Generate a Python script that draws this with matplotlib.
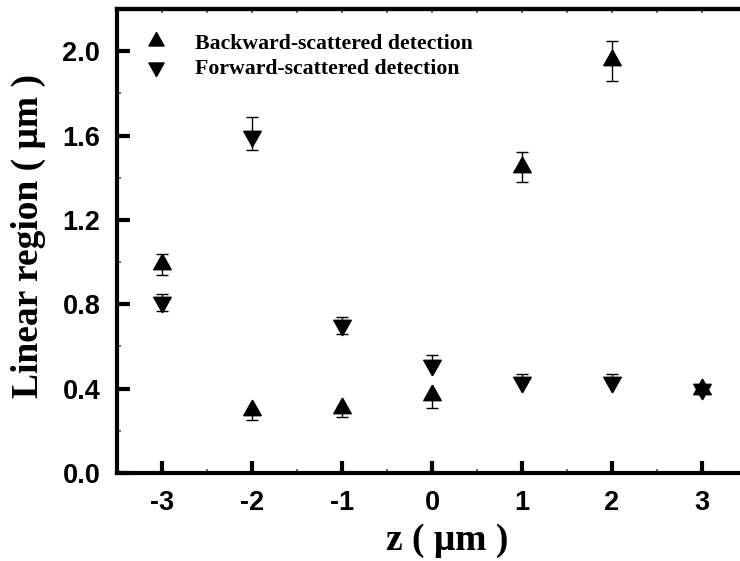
import numpy as np
import matplotlib
matplotlib.use("Agg")
import matplotlib.pyplot as plt
from matplotlib.ticker import MultipleLocator
from matplotlib.lines import Line2D

# data (error bars: lower / upper part)
z = [-3, -2, -1, 0, 1, 2, 3]
backward = [0.99, 0.30, 0.31, 0.37, 1.45, 1.96, 0.40]
backward_lo = [0.05, 0.05, 0.045, 0.06, 0.07, 0.10, 0.01]
backward_hi = [0.05, 0.0, 0.0, 0.0, 0.07, 0.09, 0.01]
forward = [0.81, 1.60, 0.70, 0.51, 0.43, 0.43, 0.40]
forward_lo = [0.04, 0.07, 0.04, 0.0, 0.0, 0.0, 0.01]
forward_hi = [0.04, 0.09, 0.04, 0.05, 0.04, 0.04, 0.01]

serif = "Liberation Serif"
sans = "Liberation Sans"
plt.rcParams["axes.unicode_minus"] = False

# triangles centred on their centroid (Origin style), so up+down give a star
tri_up = [(0, 1), (-0.84, -0.5), (0.84, -0.5), (0, 1)]
tri_down = [(0, -1), (-0.84, 0.5), (0.84, 0.5), (0, -1)]

fig = plt.figure(figsize=(7.4, 5.61), dpi=100)
# right spine sits just outside the picture, like the reference crop
ax = fig.add_axes([117 / 740, 88 / 561, 630 / 740, 464 / 561])

ax.errorbar(z, backward, yerr=[backward_lo, backward_hi], fmt="none", ecolor="black",
            elinewidth=1, capsize=4, capthick=1)
ax.errorbar(z, forward, yerr=[forward_lo, forward_hi], fmt="none", ecolor="black",
            elinewidth=1, capsize=4, capthick=1)
ax.plot(z, backward, ls="none", marker=tri_up, color="black", ms=15, zorder=3)
ax.plot(z, forward, ls="none", marker=tri_down, color="black", ms=15, zorder=3)

ax.set_xlim(-3.5, 3.5)
ax.set_ylim(0, 2.2)
ax.xaxis.set_major_locator(MultipleLocator(1))
ax.xaxis.set_minor_locator(MultipleLocator(0.5))
ax.yaxis.set_major_locator(MultipleLocator(0.4))
ax.yaxis.set_minor_locator(MultipleLocator(0.2))

for s in ax.spines.values():
    s.set_linewidth(3)

ax.tick_params(which="major", direction="in", length=9, width=3, pad=12,
               labelsize=19.5)
ax.tick_params(which="minor", direction="in", length=3, width=1.2, color="#555555")
for lab in ax.get_xticklabels() + ax.get_yticklabels():
    lab.set_fontfamily(sans)
    lab.set_fontweight("bold")

# short ticks along the top edge
top = ax.secondary_xaxis("top")
top.xaxis.set_major_locator(MultipleLocator(1))
top.xaxis.set_minor_locator(MultipleLocator(0.5))
top.tick_params(which="both", direction="in", length=3, width=1.2,
                color="#555555", labeltop=False)
top.spines["top"].set_linewidth(3)

ax.set_xlabel("z ( μm )", fontfamily=serif, fontweight="bold", fontsize=27)
ax.set_ylabel("Linear region ( μm )", fontfamily=serif, fontweight="bold",
              fontsize=27)
ax.xaxis.set_label_coords(0.524, -0.108)
ax.yaxis.set_label_coords(-0.112, 0.51)

# legend: markers only, no error bars
handles = [Line2D([], [], marker=tri_up, ls="none", color="black", ms=13),
           Line2D([], [], marker=tri_down, ls="none", color="black", ms=13)]
ax.legend(handles, ["Backward-scattered detection", "Forward-scattered detection"],
          loc="upper left", bbox_to_anchor=(0.01, 0.99), frameon=False,
          prop={"family": serif, "weight": "bold", "size": 15.7},
          handlelength=1.2, handletextpad=1.2, labelspacing=0.25)

fig.savefig("out.png", dpi=100)
